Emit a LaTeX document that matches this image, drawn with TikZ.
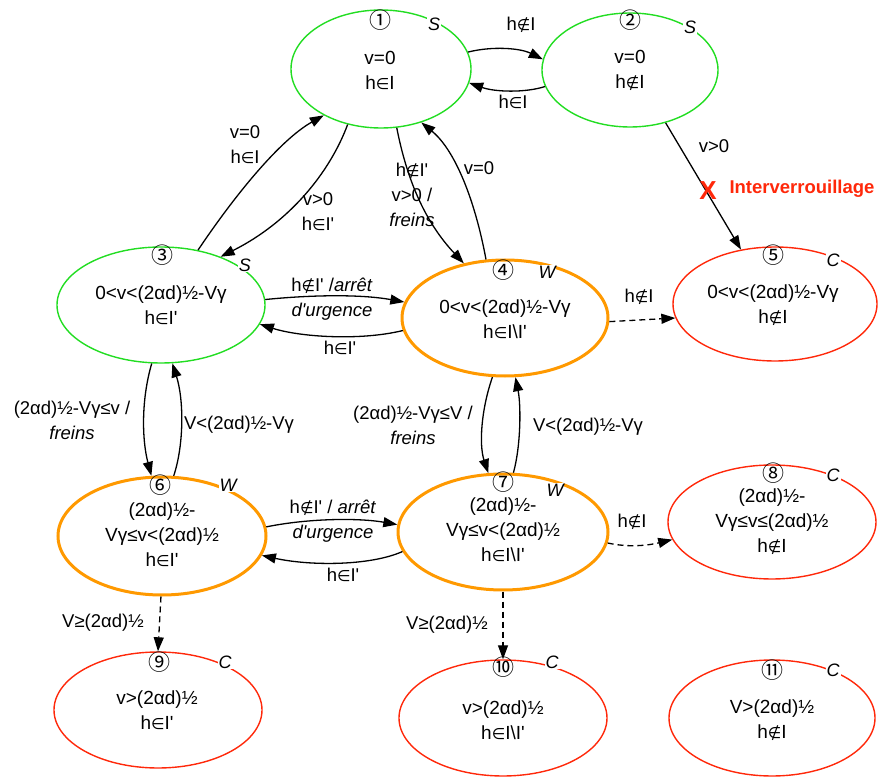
\documentclass[tikz,border=0pt]{standalone}
\usepackage{fontspec}
\setmainfont{Liberation Sans}[Ligatures=TeXOff]
\newfontfamily\dvs{DejaVu Sans}
\newfontfamily\cjk{Noto Sans CJK SC}
\usetikzlibrary{arrows.meta,shapes.geometric}
\definecolor{stgreen}{RGB}{34,221,34}
\definecolor{storange}{RGB}{255,153,0}
\definecolor{stred}{RGB}{255,40,10}
\newcommand{\myin}{{\dvs\fontsize{15.5}{25}\selectfont ∈}}
\newcommand{\mynotin}{{\dvs\fontsize{15.5}{25}\selectfont ∉}}
\tikzset{
  stbase/.style={ellipse, inner sep=0pt, minimum width=208pt, minimum height=116pt},
  stgreen/.style={stbase, draw=stgreen, line width=1.4pt},
  storange/.style={stbase, draw=storange, line width=3pt},
  stred/.style={stbase, draw=stred, line width=1.4pt},
  txt/.style={font=\fontsize{19}{25}\selectfont, align=center, inner sep=0pt},
  lab/.style={font=\fontsize{18.5}{25}\selectfont, align=center, inner sep=0pt},
  num/.style={font=\cjk\fontsize{22}{22}\selectfont, inner sep=0pt},
  typ/.style={font=\itshape\fontsize{18}{18}\selectfont, fill=white, inner sep=1pt},
  arr/.style={line width=1.3pt, -{Triangle[length=14pt,width=10pt]}},
  darr/.style={arr, dash pattern=on 6pt off 4pt}
}
\begin{document}
\begin{tikzpicture}[x=1pt,y=-1pt]
\useasboundingbox (0,0) rectangle (879,778);
% states
\node[stgreen, minimum width=180pt, minimum height=118pt] (e1) at (381,69) {};
\node[stgreen, minimum width=176pt, minimum height=114pt] (e2) at (630,70) {};
\node[stgreen] (e3) at (161,305) {};
\node[storange, minimum width=206pt] (e4) at (505,318) {};
\node[stred, minimum width=204pt, minimum height=114pt] (e5) at (775,304) {};
\node[storange, minimum height=118pt] (e6) at (162,536) {};
\node[storange, minimum width=210pt] (e7) at (503,532) {};
\node[stred, minimum height=114pt] (e8) at (772,522) {};
\node[stred] (e9) at (158,710) {};
\node[stred] (e10) at (503,718) {};
\node[stred, minimum width=206pt] (e11) at (772,718) {};
% state texts
\node[txt] (t1) at (380,70) {v=0\\h\myin I};
\node[txt] (t2) at (630,70) {v=0\\h\mynotin I};
\node[txt] (t3) at (161,305) {0<v<(2αd)½-Vγ\\h\myin I'};
\node[txt] (t4) at (505,319) {0<v<(2αd)½-Vγ\\h\myin I\textbackslash I'};
\node[txt] (t5) at (773,305) {0<v<(2αd)½-Vγ\\h\mynotin I};
\node[txt] (t6) at (162,535) {(2αd)½-\\Vγ≤v<(2αd)½\\h\myin I'};
\node[txt] (t7) at (503,530) {(2αd)½-\\Vγ≤v<(2αd)½\\h\myin I\textbackslash I'};
\node[txt] (t8) at (772,522) {(2αd)½-\\Vγ≤v≤(2αd)½\\h\mynotin I};
\node[txt] (t9) at (157,710) {v>(2αd)½\\h\myin I'};
\node[txt] (t10) at (503,720) {v>(2αd)½\\h\myin I\textbackslash I'};
\node[txt] (t11) at (772,720) {V>(2αd)½\\h\mynotin I};
% numbers
\node[num] (n1) at (380,20) {①};
\node[num] (n2) at (630,20) {②};
\node[num] (n3) at (162,255) {③};
\node[num] (n4) at (503,270) {④};
\node[num] (n5) at (773,255) {⑤};
\node[num] (n6) at (160,485) {⑥};
\node[num] (n7) at (503,482) {⑦};
\node[num] (n8) at (773,473) {⑧};
\node[num] (n9) at (159,662) {⑨};
\node[num] (n10) at (503,667) {⑩};
\node[num] (n11) at (772,670) {⑪};
% types
\node[typ] (y1) at (434,24) {S};
\node[typ] (y2) at (690,27) {S};
\node[typ] (y3) at (245,265) {S};
\node[typ] (y4) at (547,272) {W};
\node[typ] (y5) at (833,260) {C};
\node[typ] (y6) at (228,485) {W};
\node[typ] (y7) at (555,490) {W};
\node[typ] (y8) at (833,475) {C};
\node[typ] (y9) at (225,662) {C};
\node[typ] (y10) at (552,662) {C};
\node[typ] (y11) at (833,670) {C};
% transitions
\draw[arr] (e1.11) .. controls (492,46) and (520,48) .. (e2.173);
\draw[arr] (e2.191) .. controls (525,93) and (495,92) .. (e1.351);
\draw[arr] (e3.56) .. controls (235,195) and (280,140) .. (e1.219);
\draw[arr] (e1.239) .. controls (330,172) and (290,222) .. (e3.39);
\draw[arr] (e1.285) .. controls (407,180) and (425,222) .. (e4.127);
\draw[arr] (e4.108) .. controls (475,200) and (455,150) .. (e1.307);
\draw[arr] (e2.304) -- (e5.122);
\draw[arr] (e3.3) .. controls (310,295) and (360,294) .. (e4.171);
\draw[arr] (e4.187) .. controls (360,341) and (300,337) .. (e3.349);
\draw[darr] (e4.358) -- (e5.188);
\draw[arr] (e3.261) .. controls (141,400) and (142,440) .. (e6.100);
\draw[arr] (e6.79) .. controls (184,445) and (184,400) .. (e3.281);
\draw[arr] (e4.258) .. controls (481,410) and (479,445) .. (e7.104);
\draw[arr] (e7.80) .. controls (521,445) and (521,405) .. (e4.280);
\draw[arr] (e6.5) .. controls (310,518) and (360,518) .. (e7.176);
\draw[arr] (e7.191) .. controls (370,566) and (310,566) .. (e6.349);
\draw[darr] (e7.354) .. controls (630,548) and (650,545) .. (e8.190);
\draw[darr] (e6.269) -- (e9.90);
\draw[darr] (e7.270) -- (e10.90);
% transition labels
\node[lab] (l12) at (521,25) {h\mynotin I};
\node[lab] (l21) at (513,102) {h\myin I};
\node[lab] (l31) at (245,145) {v=0\\h\myin I};
\node[lab] (l13) at (318,212) {v>0\\h\myin I'};
\node[lab] (l14) at (412,195) {h\mynotin I'\\v>0 /\\\textit{freins}};
\node[lab] (l41) at (479,168) {v=0};
\node[lab] (l25) at (714,146) {v>0};
\node[font=\bfseries\fontsize{26}{26}\selectfont, text=stred, inner sep=0pt] (xx) at (708,191) {X};
\node[font=\bfseries\fontsize{18.5}{20}\selectfont, text=stred, inner sep=0pt] (il) at (802,189) {Interverrouillage};
\node[lab] (l34) at (332,299) {h\mynotin I' /\textit{arrêt}\\\textit{d'urgence}};
\node[lab] (l43) at (340,348) {h\myin I'};
\node[lab] (l45) at (639,297) {h\mynotin I};
\node[lab] (l36) at (72,420) {(2αd)½-Vγ≤v /\\\textit{freins}};
\node[lab] (l63) at (239,425) {V<(2αd)½-Vγ};
\node[lab] (l47) at (413,425) {(2αd)½-Vγ≤V /\\\textit{freins}};
\node[lab] (l74) at (588,427) {V<(2αd)½-Vγ};
\node[lab] (l67) at (333,521) {h\mynotin I' / \textit{arrêt}\\\textit{d'urgence}};
\node[lab] (l76) at (343,575) {h\myin I'};
\node[lab] (l78) at (632,522) {h\mynotin I};
\node[lab] (l69) at (103,623) {V≥(2αd)½};
\node[lab] (l710) at (447,625) {V≥(2αd)½};
\end{tikzpicture}
\end{document}
